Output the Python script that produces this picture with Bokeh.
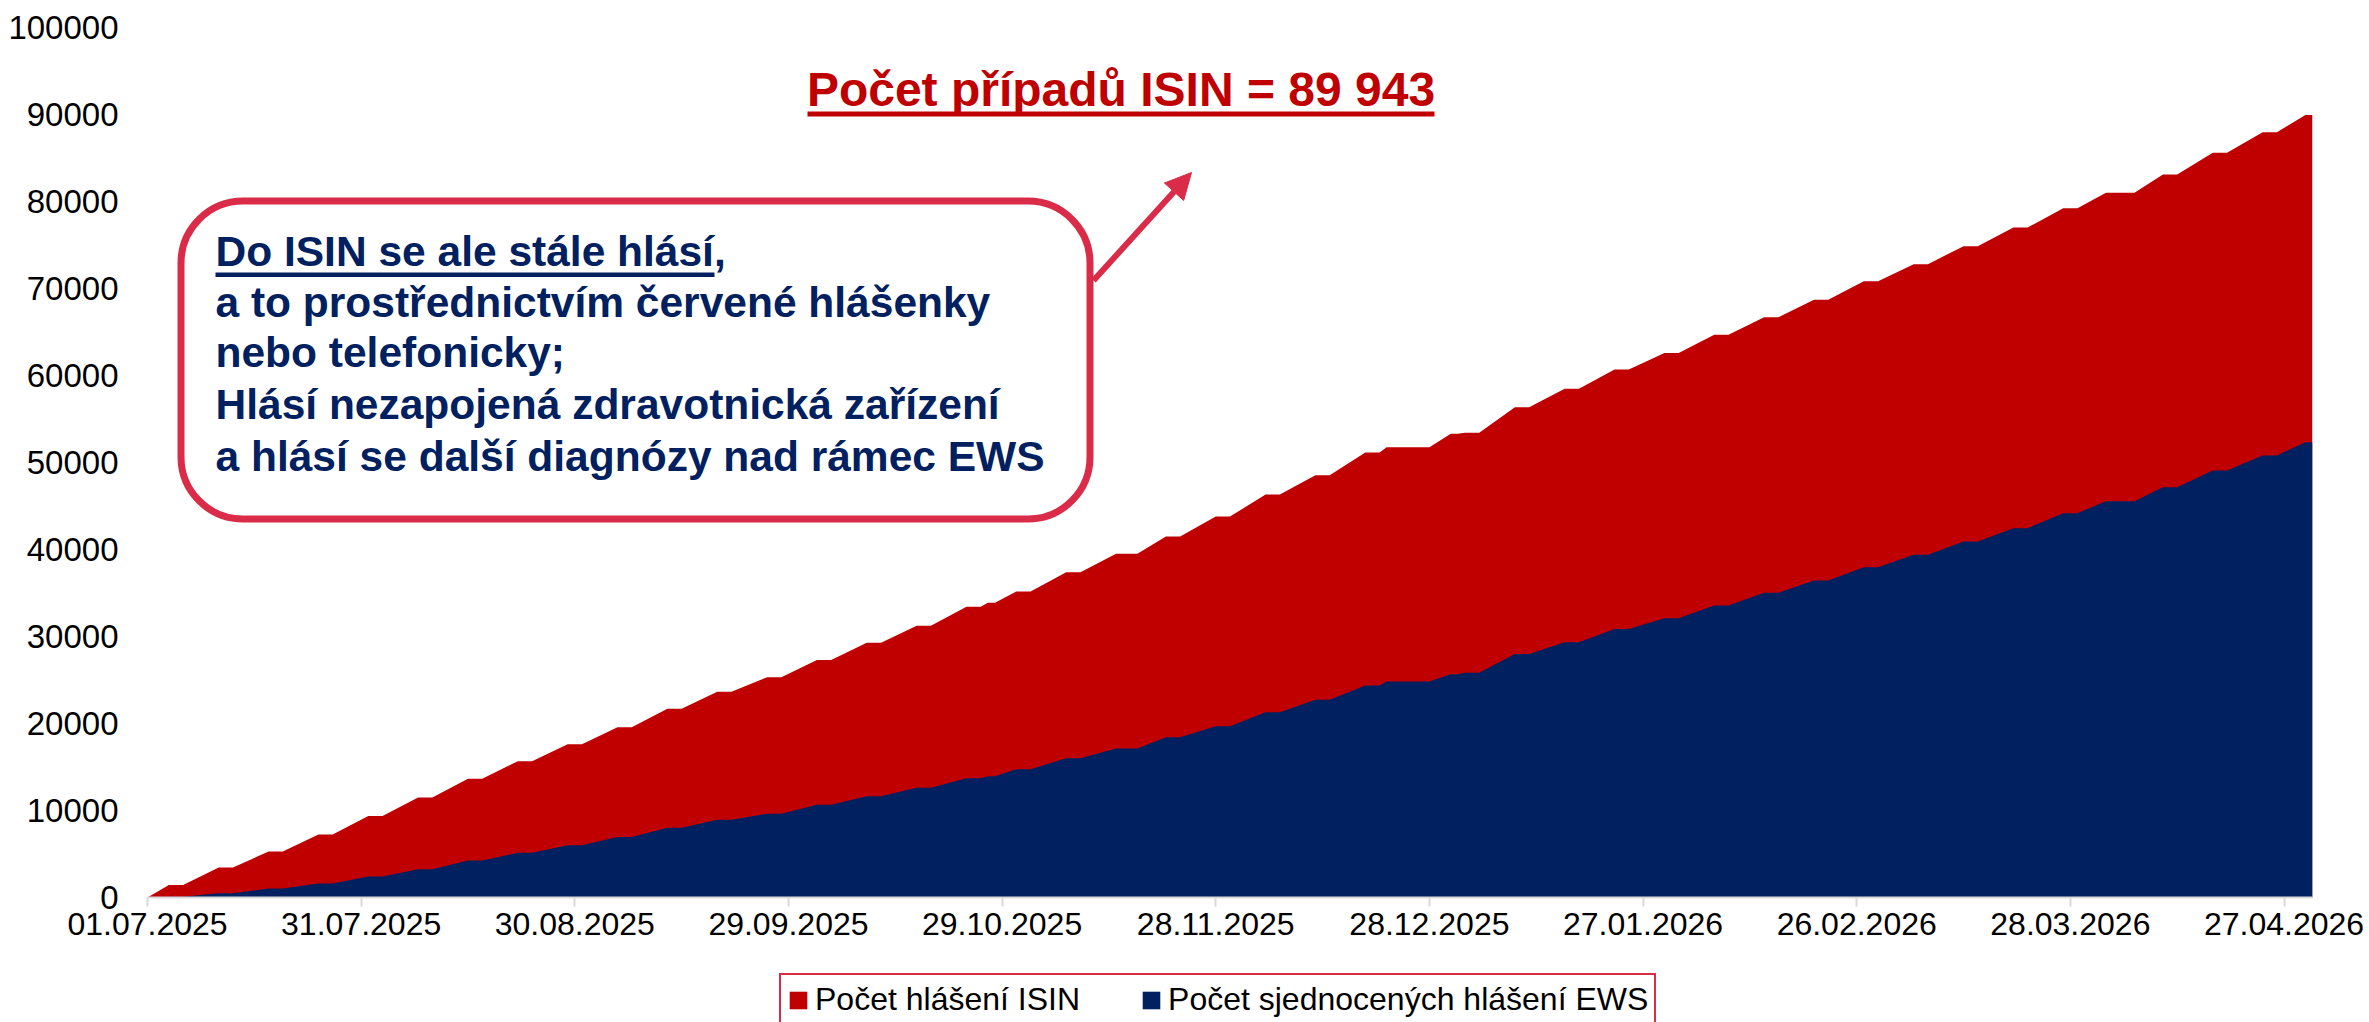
from datetime import datetime, timedelta
from bokeh.plotting import figure
from bokeh.layouts import column
from bokeh.models import (Range1d, FixedTicker, DatetimeTickFormatter, NumeralTickFormatter,
                          Legend, LegendItem, Label, BoxAnnotation, Arrow, NormalHead,
                          ColumnDataSource)
from bokeh.embed import file_html
from bokeh.resources import INLINE

# ---------------- data ----------------
report_dates = [
    "01.07.2025", "04.07.2025", "11.07.2025", "18.07.2025", "25.07.2025",
    "01.08.2025", "08.08.2025", "15.08.2025", "22.08.2025", "29.08.2025",
    "05.09.2025", "12.09.2025", "19.09.2025", "26.09.2025", "03.10.2025",
    "10.10.2025", "17.10.2025", "24.10.2025", "27.10.2025", "31.10.2025",
    "07.11.2025", "14.11.2025", "21.11.2025", "28.11.2025", "05.12.2025",
    "12.12.2025", "19.12.2025", "22.12.2025", "31.12.2025", "02.01.2026",
    "09.01.2026", "16.01.2026", "23.01.2026", "30.01.2026", "06.02.2026",
    "13.02.2026", "20.02.2026", "27.02.2026", "06.03.2026", "13.03.2026",
    "20.03.2026", "27.03.2026", "02.04.2026", "10.04.2026", "17.04.2026",
    "24.04.2026", "30.04.2026",
]
isin_cum = [
    0, 1450, 3450, 5290, 7240,
    9380, 11490, 13640, 15670, 17620,
    19580, 21690, 23640, 25330, 27310,
    29270, 31230, 33410, 33870, 35170,
    37390, 39500, 41490, 43790, 46320,
    48540, 51150, 51760, 53300, 53410,
    56360, 58470, 60700, 62600, 64670,
    66700, 68700, 70840, 72800, 74870,
    77010, 79230, 81000, 83100, 85600,
    87970, 89943,
]
ews_cum = [
    0, 100, 500, 1030, 1610,
    2410, 3260, 4250, 5130, 6020,
    6940, 8010, 8930, 9620, 10650,
    11650, 12610, 13720, 13950, 14750,
    16010, 17130, 18430, 19690, 21300,
    22720, 24370, 24830, 25650, 25820,
    28000, 29350, 30850, 32100, 33560,
    35020, 36440, 37970, 39390, 40920,
    42450, 44180, 45550, 47160, 49080,
    50800, 52340,
]
# days without new reports after each report date (weekends, holidays)
flat_days = [
    0, 2, 2, 2, 2,
    2, 2, 2, 2, 2,
    2, 2, 2, 2, 2,
    2, 2, 2, 1, 2,
    2, 3, 2, 2, 2,
    2, 2, 6, 1, 2,
    2, 2, 2, 2, 2,
    2, 2, 2, 2, 2,
    2, 2, 4, 2, 2,
    2, 1,
]
x_tick_labels = ["01.07.2025", "31.07.2025", "30.08.2025", "29.09.2025", "29.10.2025",
                 "28.11.2025", "28.12.2025", "27.01.2026", "26.02.2026", "28.03.2026",
                 "27.04.2026"]
y_ticks = [0, 10000, 20000, 30000, 40000, 50000, 60000, 70000, 80000, 90000, 100000]
series_names = ["Počet hlášení ISIN", "Počet sjednocených hlášení EWS"]
title_text = "Počet případů ISIN = 89 943"
note_lines = [
    "Do ISIN se ale stále hlásí,",
    "a to prostřednictvím červené hlášenky",
    "nebo telefonicky;",
    "Hlásí nezapojená zdravotnická zařízení",
    "a hlásí se další diagnózy nad rámec EWS",
]
x_start_label, x_end_label = "01.07.2025", "01.05.2026"

# ---------------- styles ----------------
RED = "#C00000"
BLUE = "#002060"
CRIMSON = "#DA2C48"
FONT = "Liberation Sans"

EPOCH = datetime(1970, 1, 1)


def parse(s):
    return datetime.strptime(s, "%d.%m.%Y")


def ms(dt):
    return (dt - EPOCH).total_seconds() * 1000.0


xs, y_isin, y_ews = [], [], []
for d, a, b, f in zip(report_dates, isin_cum, ews_cum, flat_days):
    dt = parse(d)
    xs.append(dt); y_isin.append(a); y_ews.append(b)
    if f:
        xs.append(dt + timedelta(days=f)); y_isin.append(a); y_ews.append(b)

src = ColumnDataSource(dict(x=xs, isin=y_isin, ews=y_ews))

W = 2369
H1, H2 = 960, 62
FL, FT, FW, FH = 147, 27, 2165, 870
x0, x1 = ms(parse(x_start_label)), ms(parse(x_end_label))
Y0, Y1 = 0, 100000

p = figure(width=W, height=H1, x_axis_type="datetime",
           x_range=Range1d(x0, x1), y_range=Range1d(Y0, Y1),
           output_backend="svg", toolbar_location=None,
           min_border_left=FL, min_border_top=FT,
           min_border_right=W - FL - FW, min_border_bottom=H1 - FT - FH)
p.outline_line_color = None
p.background_fill_color = "white"
p.xgrid.visible = False
p.ygrid.visible = False


def px_x(xf):
    return x0 + (xf - FL) / FW * (x1 - x0)


def px_y(yf):
    return Y0 + (FT + FH - yf) / FH * (Y1 - Y0)


r_red = p.varea(x="x", y1=0, y2="isin", source=src, fill_color=RED)
r_blue = p.varea(x="x", y1=0, y2="ews", source=src, fill_color=BLUE)

# axes
p.yaxis.ticker = FixedTicker(ticks=y_ticks)
p.yaxis.formatter = NumeralTickFormatter(format="0")
p.yaxis.axis_line_color = None
p.yaxis.major_tick_line_color = None
p.yaxis.minor_tick_line_color = None
p.yaxis.major_tick_out = 0
p.yaxis.major_tick_in = 0
p.yaxis.major_label_standoff = 29
p.yaxis.major_label_text_font = FONT
p.yaxis.major_label_text_font_size = "33px"
p.yaxis.major_label_text_color = "#000000"

p.xaxis.ticker = FixedTicker(ticks=[ms(parse(t)) for t in x_tick_labels])
fmt = "%d.%m.%Y"
p.xaxis.formatter = DatetimeTickFormatter(milliseconds=fmt, seconds=fmt, minsec=fmt, minutes=fmt,
                                          hourmin=fmt, hours=fmt, days=fmt, months=fmt, years=fmt)
p.xaxis.axis_line_color = "#D9D9D9"
p.xaxis.axis_line_width = 2
p.xaxis.major_tick_line_color = "#D9D9D9"
p.xaxis.major_tick_line_width = 2
p.xaxis.major_tick_out = 9
p.xaxis.major_tick_in = 0
p.xaxis.minor_tick_line_color = None
p.xaxis.major_label_standoff = 6
p.xaxis.major_label_text_font = FONT
p.xaxis.major_label_text_font_size = "32px"
p.xaxis.major_label_text_color = "#000000"

# title with underline
LABEL_SHIFT = 17  # rendered baseline sits lower than requested
p.add_layout(Label(x=px_x(1120.5), y=px_y(106 - LABEL_SHIFT), text=title_text, text_align="center",
                   text_baseline="alphabetic", text_font=FONT, text_font_size="48px",
                   text_font_style="bold", text_color=RED))
p.add_layout(BoxAnnotation(left=px_x(807), right=px_x(1434), top=px_y(111), bottom=px_y(116),
                           fill_color=RED, fill_alpha=1, line_color=None))

# note box
p.add_layout(BoxAnnotation(left=px_x(180.5), right=px_x(1089.5), top=px_y(200.5), bottom=px_y(518.5),
                           fill_color="white", fill_alpha=1, line_color=CRIMSON, line_alpha=1,
                           line_width=7, border_radius=62, level="overlay"))
baselines = [268, 318.5, 369, 421, 473]
for line, b in zip(note_lines, baselines):
    p.add_layout(Label(x=px_x(215), y=px_y(b - LABEL_SHIFT), text=line, text_align="left",
                       text_baseline="alphabetic", text_font=FONT, text_font_size="42.5px",
                       text_font_style="bold", text_color=BLUE, level="overlay"))
p.add_layout(BoxAnnotation(left=px_x(215), right=px_x(714), top=px_y(272), bottom=px_y(276.5),
                           fill_color=BLUE, fill_alpha=1, line_color=None, level="overlay"))

# arrow
p.add_layout(Arrow(end=NormalHead(size=26, fill_color=CRIMSON, line_color=CRIMSON),
                   x_start=px_x(1093), y_start=px_y(280), x_end=px_x(1191), y_end=px_y(172),
                   line_color=CRIMSON, line_width=6))

# legend strip below the chart
p2 = figure(width=W, height=H2, x_range=Range1d(0, 1), y_range=Range1d(0, 1),
            x_axis_type=None, y_axis_type=None, output_backend="svg",
            toolbar_location=None, min_border=0)
p2.outline_line_color = None
p2.xgrid.visible = False
p2.ygrid.visible = False
k_red = p2.varea(x="x", y1=0, y2="isin", source=src, fill_color=RED)
k_blue = p2.varea(x="x", y1=0, y2="ews", source=src, fill_color=BLUE)
legend = Legend(items=[LegendItem(label=series_names[0], renderers=[k_red]),
                       LegendItem(label=series_names[1], renderers=[k_blue])],
                orientation="horizontal", location=(632, -4),
                border_line_color=CRIMSON, border_line_width=2, border_line_alpha=1,
                padding=6, spacing=60, label_standoff=6,
                glyph_width=22, glyph_height=22,
                label_text_font=FONT, label_text_font_size="32px",
                label_text_color="#000000", margin=0)
p2.add_layout(legend, "center")

layout = column(p, p2, spacing=0)
open("out.html", "w").write(file_html(layout, INLINE))
